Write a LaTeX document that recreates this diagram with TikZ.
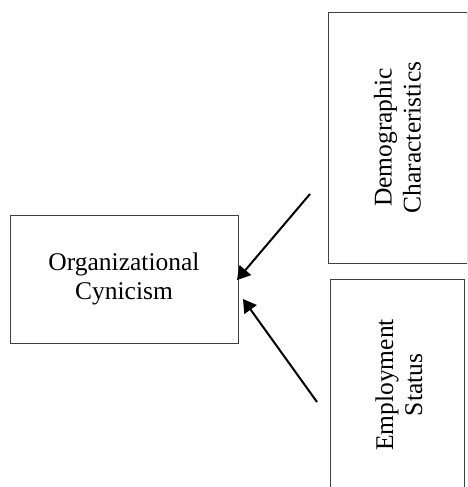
\documentclass[tikz,border=0pt]{standalone}
\usepackage{fontspec}
\setmainfont{Liberation Serif}
\usetikzlibrary{arrows.meta}
\begin{document}
\begin{tikzpicture}[x=1pt,y=-1pt,
  box/.style={draw=black!75, line width=0.9pt, inner sep=0pt, align=center,
    font=\fontsize{25.5}{29}\selectfont},
  arr/.style={line width=2pt, -{Triangle[length=13pt,width=15pt]}}]
\useasboundingbox (0,0) rectangle (467,487);
\clip (0,0) rectangle (467,487);
\node[box, minimum width=228pt, minimum height=128pt] (oc) at (124,279)
  {Organizational\\Cynicism};
\node[box, minimum width=139pt, minimum height=251pt] (dc) at (397.5,137.5) {};
\node[rotate=90, align=center, font=\fontsize{25.5}{29}\selectfont] (dct) at (dc.center)
  {Demographic\\Characteristics};
\node[box, minimum width=134pt, minimum height=246pt] (es) at (397,402) {};
\node[rotate=90, align=center, font=\fontsize{25.5}{29}\selectfont] (est) at (399,385)
  {Employment\\Status};
\coordinate (s1) at (310,194);
\coordinate (e1) at (237,280);
\coordinate (s2) at (317,402);
\coordinate (e2) at (243,299);
\draw[arr] (s1) -- (e1);
\draw[arr] (s2) -- (e2);
\end{tikzpicture}
\end{document}
